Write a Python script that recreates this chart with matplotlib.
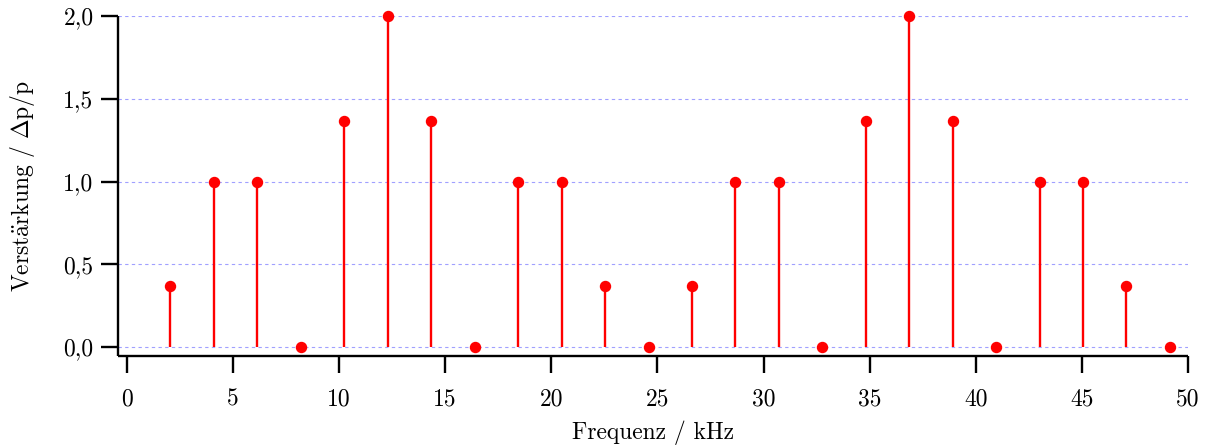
import numpy as np
import matplotlib
matplotlib.use("Agg")
import matplotlib.pyplot as plt
from matplotlib.ticker import FuncFormatter, MultipleLocator

plt.rcParams['font.family'] = 'serif'
plt.rcParams['font.serif'] = ['cmr10', 'DejaVu Serif']
plt.rcParams['mathtext.fontset'] = 'cm'
plt.rcParams['axes.formatter.use_mathtext'] = True

# spectral lines: frequency (kHz) and gain
freq_khz = [2.05, 4.10, 6.14, 8.19, 10.24, 12.29, 14.34, 16.38,
            18.43, 20.48, 22.53, 24.58, 26.62, 28.67, 30.72, 32.77,
            34.82, 36.86, 38.91, 40.96, 43.01, 45.06, 47.10, 49.15]
gain = [0.366, 1.0, 1.0, 0.0, 1.366, 2.0, 1.366, 0.0,
        1.0, 1.0, 0.366, 0.0, 0.366, 1.0, 1.0, 0.0,
        1.366, 2.0, 1.366, 0.0, 1.0, 1.0, 0.366, 0.0]

XMIN, XMAX = -0.42, 50
YMIN, YMAX = -0.054, 2.0

fig = plt.figure(figsize=(12.09, 4.47), dpi=100)
ax = fig.add_axes([0.0976, 0.2036, 0.885, 0.7606])

# stems as vertical lines plus round heads
ax.vlines(freq_khz, 0, gain, color='#ff0000', linewidth=1.7, zorder=3, clip_on=False)
ax.plot(freq_khz, gain, 'o', color='#ff0000', markersize=7.2, clip_on=False, zorder=4)

ax.xaxis.set_major_locator(MultipleLocator(5))
ax.yaxis.set_major_locator(MultipleLocator(0.5))
ax.yaxis.set_major_formatter(FuncFormatter(lambda v, p: f"{v:.1f}".replace('.', ',')))
ax.xaxis.set_major_formatter(FuncFormatter(lambda v, p: f"{v:.0f}"))

ax.grid(axis='y', color='#a0a0ff', linestyle=(0, (3, 3)), linewidth=0.8)
ax.set_axisbelow(True)

for side in ['top', 'right']:
    ax.spines[side].set_visible(False)
for side in ['left', 'bottom']:
    ax.spines[side].set_linewidth(1.7)
    ax.spines[side].set_capstyle('butt')
ax.spines['bottom'].set_bounds(XMIN, XMAX)
ax.spines['left'].set_bounds(YMIN, YMAX)

ax.tick_params(axis='both', direction='out', length=12.5, width=1.7, labelsize=17)
ax.tick_params(axis='x', pad=11)
ax.tick_params(axis='y', pad=5)

ax.set_xlabel('Frequenz / kHz', fontsize=17, labelpad=7)
ax.set_ylabel(r'$\mathrm{Verst\ddot{a}rkung\ /\ \Delta p/p}$', fontsize=17, labelpad=19)

ax.set_xlim(XMIN, XMAX)
ax.set_ylim(YMIN, YMAX)

fig.savefig('out.png', dpi=100)
